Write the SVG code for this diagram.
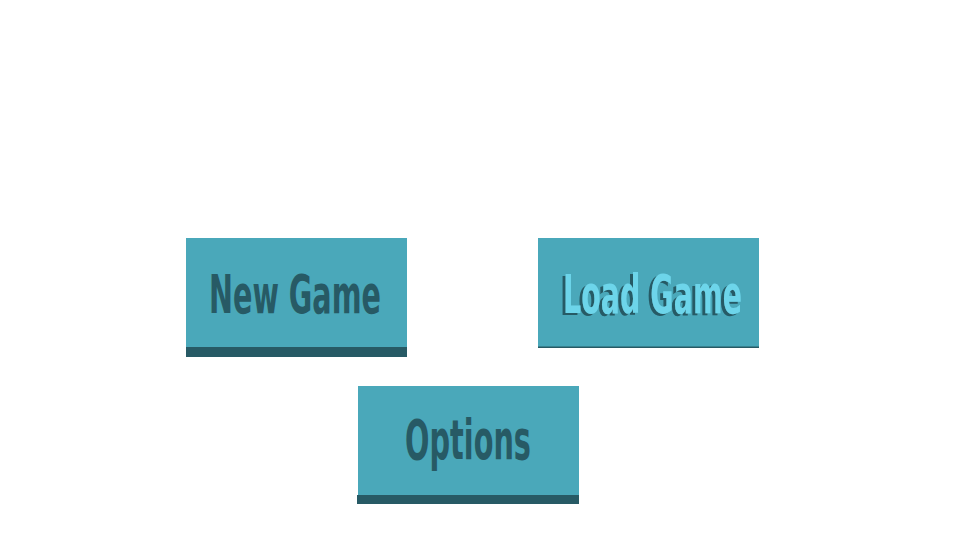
<svg xmlns="http://www.w3.org/2000/svg" width="960" height="540" viewBox="0 0 960 540">
<defs>
<filter id="shadow" x="-10%" y="-10%" width="120%" height="130%">
<feFlood flood-color="#275A65" result="c"/>
<feComposite in="c" in2="SourceAlpha" operator="in" result="s"/>
<feOffset in="s" dx="-3" dy="1.5" result="o"/>
<feMerge><feMergeNode in="o"/><feMergeNode in="SourceGraphic"/></feMerge>
</filter>
</defs>
<style>
.btn{fill:#4AA8BA}
.bar{fill:#275A65}
.lbl{font-family:"Liberation Sans Narrow","DejaVu Sans Condensed","Liberation Sans",sans-serif;font-weight:bold;font-stretch:condensed}
.dark{fill:#275A65}
.light{fill:#6DD5EA}
</style>
<rect width="960" height="540" fill="#FFFFFF"/>
<g id="connectors"></g>
<g id="new-game">
<rect class="btn" x="186" y="238" width="221" height="109"/>
<rect class="bar" x="186" y="347" width="221" height="10"/>
<text class="lbl dark" x="209" y="313" font-size="53" textLength="172" lengthAdjust="spacingAndGlyphs">New Game</text>
</g>
<g id="load-game">
<rect class="btn" x="538" y="238" width="221" height="109"/>
<rect class="bar" x="538" y="346.5" width="221" height="1.5"/>
<text class="lbl light" x="563" y="313" font-size="53" textLength="179" lengthAdjust="spacingAndGlyphs" filter="url(#shadow)">Load Game</text>
</g>
<g id="options">
<rect class="btn" x="358" y="386" width="221" height="109"/>
<rect class="bar" x="357" y="495" width="222" height="9"/>
<text class="lbl dark" x="405" y="459" font-size="55" textLength="126" lengthAdjust="spacingAndGlyphs">Options</text>
</g>
</svg>
